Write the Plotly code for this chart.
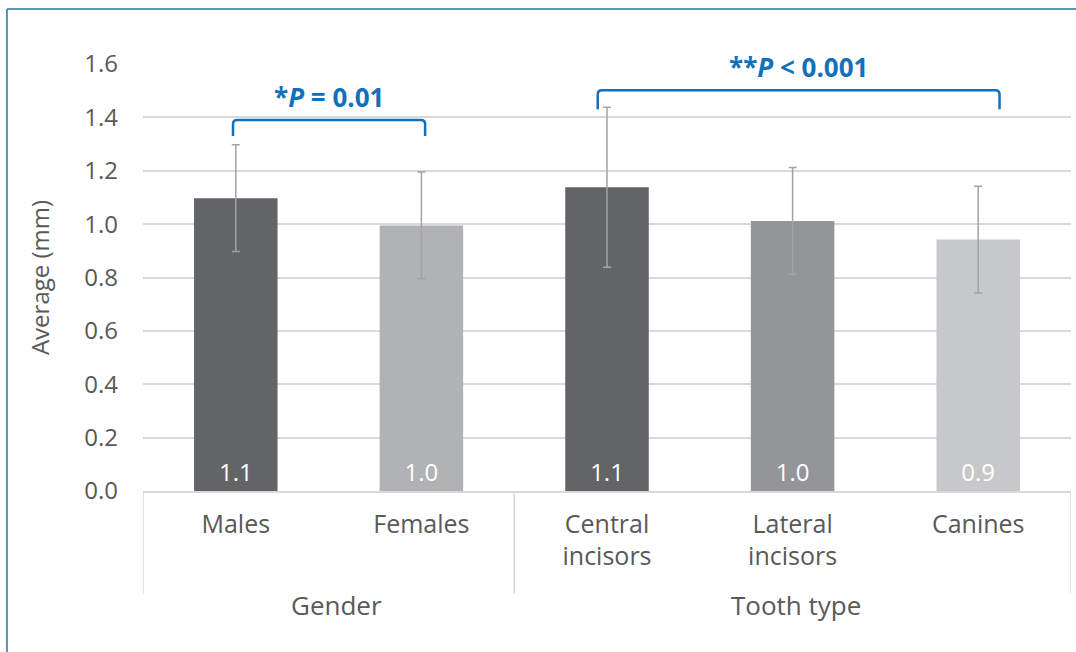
import plotly.graph_objects as go

# Data
categories = ["Males", "Females", "Central<br>incisors", "Lateral<br>incisors", "Canines"]
groups = ["Gender", "Tooth type"]
averages = [1.097, 0.995, 1.138, 1.012, 0.942]
errors = [0.2, 0.2, 0.3, 0.2, 0.2]
bar_colors = ["#636466", "#b1b2b4", "#636466", "#939598", "#c7c8ca"]
p_labels = ["<b>*<i>P</i> = 0.01</b>", "<b>**<i>P</i> &lt; 0.001</b>"]

FONT = "Open Sans"
TEXT_GREY = "#595959"
BLUE = "#1170bb"

x = list(range(len(categories)))

fig = go.Figure()
fig.add_trace(go.Bar(
    x=x, y=averages,
    marker=dict(color=bar_colors, line=dict(width=0)),
    width=0.45,
    error_y=dict(type="data", array=errors, color="#a3a3a3", thickness=1.5, width=4),
    texttemplate="%{y:.1f}",
    textposition="inside",
    insidetextanchor="start",
    textangle=0,
    textfont=dict(family=FONT, size=24, color="white"),
    hoverinfo="skip",
))

shapes = []
annotations = []


def bracket(x0, x1, y_top, y_bot, rx=0.022, ry=0.016):
    return (f"M {x0},{y_bot} L {x0},{y_top - ry} Q {x0},{y_top} {x0 + rx},{y_top} "
            f"L {x1 - rx},{y_top} Q {x1},{y_top} {x1},{y_top - ry} L {x1},{y_bot}")


# significance brackets over the two groups
bracket_specs = [(-0.015, 1.02, 1.39, 1.33, 1.477), (1.95, 4.115, 1.502, 1.43, 1.588)]
for (x0, x1, yt, yb, ylab), label in zip(bracket_specs, p_labels):
    shapes.append(dict(type="path", xref="x", yref="y", path=bracket(x0, x1, yt, yb),
                       line=dict(color=BLUE, width=2.5)))
    annotations.append(dict(x=(x0 + x1) / 2, y=ylab, xref="x", yref="y", text=label,
                            showarrow=False, font=dict(family=FONT, size=26, color=BLUE)))

# group dividers and group labels below the category labels
div_bottom = -0.24
for pos in [-0.5, 1.5, 4.5]:
    shapes.append(dict(type="line", xref="x", yref="paper", x0=pos, x1=pos, y0=0, y1=div_bottom,
                       line=dict(color="#d9d9d9", width=1.5)))
group_centers = [0.54, 3.02]
for name, cx in zip(groups, group_centers):
    annotations.append(dict(x=cx, y=-0.268, xref="x", yref="paper", text=name, showarrow=False,
                            yanchor="middle", font=dict(family=FONT, size=26, color=TEXT_GREY)))

# outer frame (top and left edges)
frame_color = "#5896b2"
shapes.append(dict(type="line", xref="paper", yref="paper", x0=-0.1466, x1=1.01, y0=1.1288, y1=1.1288,
                   line=dict(color=frame_color, width=2)))
shapes.append(dict(type="line", xref="paper", yref="paper", x0=-0.1466, x1=-0.1466, y0=1.1288, y1=-0.4,
                   line=dict(color=frame_color, width=2)))

fig.update_layout(
    width=1076, height=652,
    margin=dict(l=143, r=5, t=64, b=161),
    paper_bgcolor="white", plot_bgcolor="white",
    showlegend=False,
    shapes=shapes,
    annotations=annotations,
    font=dict(family=FONT, color=TEXT_GREY),
    xaxis=dict(
        range=[-0.5, 4.5], tickmode="array", tickvals=x, ticktext=categories,
        tickfont=dict(family=FONT, size=25, color=TEXT_GREY),
        showgrid=False, zeroline=False, showline=True, linecolor="#d9d9d9", linewidth=1.5,
        ticks="", ticklabelstandoff=10,
    ),
    yaxis=dict(
        range=[0, 1.6], tickmode="array", tickvals=[0, 0.2, 0.4, 0.6, 0.8, 1.0, 1.2, 1.4, 1.6],
        tickformat=".1f",
        tickfont=dict(family=FONT, size=24, color=TEXT_GREY),
        showgrid=True, gridcolor="#d9d9d9", gridwidth=1.5, zeroline=False, showline=False,
        ticks="", ticklabelstandoff=24,
        title=dict(text="Average (mm)", font=dict(family=FONT, size=24, color=TEXT_GREY), standoff=27),
    ),
)

fig.write_html("out.html")
